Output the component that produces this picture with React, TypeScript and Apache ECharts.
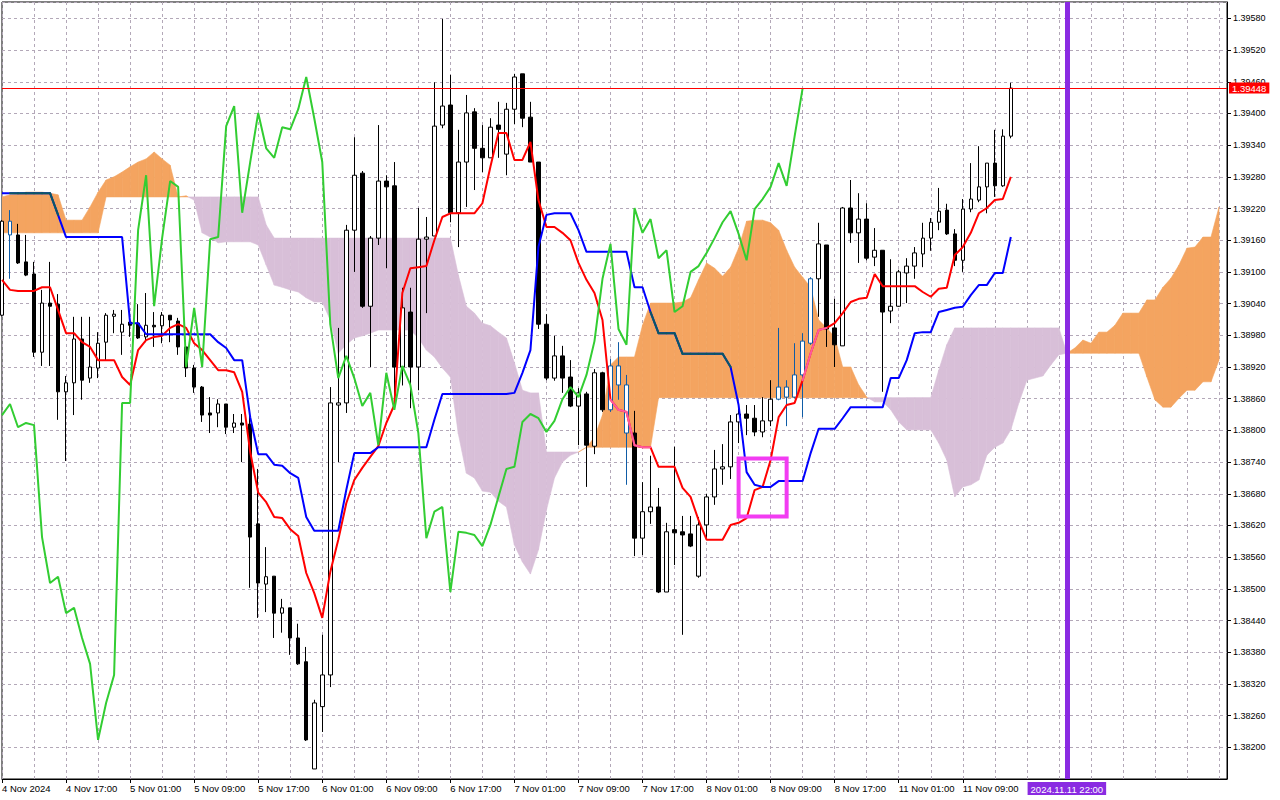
import React, { useEffect, useRef } from "react";
import * as echarts from "echarts";

// ---- tick labels (one every 8 hourly bars) ----
const xTickLabels = [
  "4 Nov 2024", "4 Nov 17:00", "5 Nov 01:00", "5 Nov 09:00", "5 Nov 17:00",
  "6 Nov 01:00", "6 Nov 09:00", "6 Nov 17:00", "7 Nov 01:00", "7 Nov 09:00",
  "7 Nov 17:00", "8 Nov 01:00", "8 Nov 09:00", "8 Nov 17:00", "11 Nov 01:00",
  "11 Nov 09:00",
];

// ---- candles ----
const opens = [
  1.39018, 1.39196, 1.39170, 1.39119, 1.39096, 1.38948, 1.39041, 1.39039, 1.38873, 1.38890,
  1.38973, 1.38899, 1.38918, 1.38967, 1.39016, 1.38986, 1.39005, 1.39003, 1.38977, 1.38999,
  1.38998, 1.39018, 1.39007, 1.38958, 1.38918, 1.38882, 1.38833, 1.38833, 1.38850, 1.38806,
  1.38814, 1.38812, 1.38623, 1.38509, 1.38524, 1.38454, 1.38464, 1.38407, 1.38362, 1.38159,
  1.38277, 1.38337, 1.38848, 1.38852, 1.39179, 1.39287, 1.39035, 1.39164, 1.39272, 1.39263,
  1.38920, 1.39024, 1.38920, 1.39162, 1.39168, 1.39378, 1.39416, 1.39212, 1.39308, 1.39403,
  1.39334, 1.39316, 1.39378, 1.39323, 1.39408, 1.39475, 1.39393, 1.39308, 1.39001, 1.38899,
  1.38941, 1.38901, 1.38846, 1.38869, 1.38770, 1.38909, 1.38839, 1.38922, 1.38886, 1.38795,
  1.38596, 1.38646, 1.38655, 1.38494, 1.38612, 1.38608, 1.38604, 1.38524, 1.38621, 1.38674,
  1.38727, 1.38731, 1.38816, 1.38831, 1.38823, 1.38797, 1.38818, 1.38859, 1.38882, 1.38863,
  1.38905, 1.38965, 1.39087, 1.39151, 1.38994, 1.38960, 1.39221, 1.39174, 1.39200, 1.39128,
  1.39141, 1.39026, 1.39035, 1.39098, 1.39111, 1.39134, 1.39164, 1.39194, 1.39217, 1.39172,
  1.39122, 1.39219, 1.39236, 1.39261, 1.39306, 1.39263, 1.39357,
];
const highs = [
  1.39198, 1.39217, 1.39191, 1.39170, 1.39119, 1.39066, 1.39119, 1.39058, 1.38903, 1.39015,
  1.39015, 1.39015, 1.38986, 1.39022, 1.39028, 1.39028, 1.39022, 1.39039, 1.39060, 1.39024,
  1.39024, 1.39018, 1.39013, 1.38971, 1.38924, 1.38884, 1.38863, 1.38859, 1.38850, 1.38831,
  1.38831, 1.38833, 1.38727, 1.38579, 1.38524, 1.38481, 1.38464, 1.38434, 1.38390, 1.38290,
  1.38413, 1.38882, 1.38994, 1.39189, 1.39355, 1.39291, 1.39168, 1.39378, 1.39283, 1.39308,
  1.39070, 1.39070, 1.39221, 1.39204, 1.39459, 1.39579, 1.39473, 1.39369, 1.39435, 1.39410,
  1.39378, 1.39391, 1.39422, 1.39420, 1.39475, 1.39475, 1.39422, 1.39308, 1.39020, 1.38979,
  1.38960, 1.38933, 1.38880, 1.38873, 1.38916, 1.38911, 1.38935, 1.38967, 1.38905, 1.38837,
  1.38702, 1.38752, 1.38691, 1.38625, 1.38769, 1.38638, 1.38638, 1.38636, 1.38680, 1.38763,
  1.38774, 1.38829, 1.38841, 1.38848, 1.38848, 1.38863, 1.38895, 1.38994, 1.38895, 1.38965,
  1.38984, 1.39090, 1.39193, 1.39151, 1.39049, 1.39223, 1.39274, 1.39249, 1.39230, 1.39183,
  1.39141, 1.39124, 1.39104, 1.39126, 1.39147, 1.39193, 1.39202, 1.39259, 1.39229, 1.39181,
  1.39238, 1.39306, 1.39338, 1.39306, 1.39369, 1.39370, 1.39458,
];
const lows = [
  1.39016, 1.39087, 1.39115, 1.39092, 1.38939, 1.38922, 1.38922, 1.38820, 1.38742, 1.38829,
  1.38858, 1.38890, 1.38899, 1.38933, 1.38984, 1.38943, 1.38977, 1.38973, 1.38967, 1.38958,
  1.38965, 1.38967, 1.38943, 1.38901, 1.38871, 1.38816, 1.38795, 1.38806, 1.38793, 1.38795,
  1.38740, 1.38502, 1.38445, 1.38456, 1.38407, 1.38417, 1.38375, 1.38356, 1.38212, 1.38159,
  1.38229, 1.38314, 1.38740, 1.38833, 1.39100, 1.39032, 1.38920, 1.39151, 1.39107, 1.38867,
  1.38885, 1.38842, 1.38876, 1.39022, 1.39168, 1.39372, 1.39194, 1.39147, 1.39223, 1.39255,
  1.39289, 1.39316, 1.39316, 1.39283, 1.39380, 1.39374, 1.39308, 1.38992, 1.38895, 1.38894,
  1.38871, 1.38844, 1.38772, 1.38693, 1.38755, 1.38835, 1.38835, 1.38858, 1.38697, 1.38562,
  1.38564, 1.38623, 1.38492, 1.38494, 1.38545, 1.38413, 1.38579, 1.38521, 1.38596, 1.38659,
  1.38697, 1.38708, 1.38776, 1.38791, 1.38789, 1.38787, 1.38808, 1.38857, 1.38808, 1.38861,
  1.38825, 1.38962, 1.39015, 1.38958, 1.38920, 1.38960, 1.39155, 1.39117, 1.39122, 1.39111,
  1.38873, 1.39003, 1.39034, 1.39041, 1.39087, 1.39109, 1.39140, 1.39179, 1.39170, 1.39111,
  1.39100, 1.39213, 1.39232, 1.39211, 1.39242, 1.39261, 1.39353,
];
const closes = [
  1.39196, 1.39170, 1.39117, 1.39094, 1.38948, 1.39041, 1.39035, 1.38873, 1.38890, 1.38973,
  1.38895, 1.38920, 1.38965, 1.39018, 1.39020, 1.39001, 1.38999, 1.38975, 1.38999, 1.38996,
  1.39018, 1.39009, 1.38958, 1.38918, 1.38882, 1.38829, 1.38829, 1.38850, 1.38806, 1.38814,
  1.38810, 1.38598, 1.38511, 1.38523, 1.38454, 1.38464, 1.38407, 1.38358, 1.38214, 1.38284,
  1.38337, 1.38852, 1.38852, 1.39179, 1.39283, 1.39035, 1.39164, 1.39272, 1.39261, 1.38920,
  1.39032, 1.38920, 1.39162, 1.39166, 1.39376, 1.39414, 1.39212, 1.39308, 1.39401, 1.39334,
  1.39316, 1.39374, 1.39370, 1.39408, 1.39469, 1.39391, 1.39308, 1.39001, 1.38899, 1.38941,
  1.38899, 1.38846, 1.38871, 1.38772, 1.38909, 1.38839, 1.38922, 1.38886, 1.38795, 1.38596,
  1.38646, 1.38655, 1.38494, 1.38608, 1.38606, 1.38602, 1.38581, 1.38621, 1.38674, 1.38727,
  1.38731, 1.38816, 1.38831, 1.38823, 1.38797, 1.38818, 1.38859, 1.38882, 1.38863, 1.38905,
  1.38969, 1.39087, 1.39153, 1.38992, 1.38962, 1.39221, 1.39174, 1.39200, 1.39126, 1.39141,
  1.39024, 1.39035, 1.39100, 1.39111, 1.39136, 1.39164, 1.39194, 1.39215, 1.39172, 1.39122,
  1.39219, 1.39238, 1.39261, 1.39306, 1.39263, 1.39357, 1.39448,
];

// ---- Ichimoku lines ----
const tenkan = [
  1.39085, 1.39066, 1.39064, 1.39064, 1.39064, 1.39071, 1.39071, 1.39028, 1.38984, 1.38984,
  1.38967, 1.38958, 1.38933, 1.38933, 1.38933, 1.38901, 1.38886, 1.38952, 1.38971, 1.38977,
  1.38979, 1.38994, 1.39001, 1.38994, 1.38965, 1.38952, 1.38933, 1.38914, 1.38914, 1.38910,
  1.38873, 1.38759, 1.38682, 1.38664, 1.38636, 1.38634, 1.38613, 1.38600, 1.38530, 1.38492,
  1.38445, 1.38532, 1.38593, 1.38662, 1.38706, 1.38729, 1.38750, 1.38770, 1.38814, 1.38848,
  1.39060, 1.39107, 1.39109, 1.39111, 1.39160, 1.39204, 1.39211, 1.39211, 1.39211, 1.39211,
  1.39230, 1.39299, 1.39363, 1.39363, 1.39312, 1.39312, 1.39346, 1.39236, 1.39185, 1.39185,
  1.39174, 1.39160, 1.39117, 1.39085, 1.39060, 1.39009, 1.38858, 1.38839, 1.38835, 1.38772,
  1.38768, 1.38768, 1.38731, 1.38731, 1.38731, 1.38691, 1.38674, 1.38630, 1.38593, 1.38593,
  1.38593, 1.38621, 1.38625, 1.38634, 1.38687, 1.38693, 1.38744, 1.38825, 1.38848, 1.38852,
  1.38895, 1.38946, 1.38990, 1.38994, 1.39003, 1.39022, 1.39043, 1.39049, 1.39051, 1.39096,
  1.39073, 1.39073, 1.39073, 1.39073, 1.39073, 1.39062, 1.39053, 1.39068, 1.39070, 1.39132,
  1.39147, 1.39174, 1.39211, 1.39221, 1.39236, 1.39238, 1.39280,
];
const kijun = [
  1.39249, 1.39249, 1.39249, 1.39249, 1.39249, 1.39249, 1.39249, 1.39208, 1.39166, 1.39166,
  1.39166, 1.39166, 1.39166, 1.39166, 1.39166, 1.39166, 1.39003, 1.39003, 1.38982, 1.38982,
  1.38982, 1.38982, 1.38982, 1.38982, 1.38982, 1.38982, 1.38982, 1.38967, 1.38956, 1.38933,
  1.38933, 1.38825, 1.38755, 1.38755, 1.38735, 1.38733, 1.38719, 1.38710, 1.38636, 1.38610,
  1.38610, 1.38610, 1.38610, 1.38687, 1.38757, 1.38757, 1.38757, 1.38768, 1.38768, 1.38768,
  1.38768, 1.38768, 1.38768, 1.38768, 1.38820, 1.38869, 1.38869, 1.38869, 1.38869, 1.38869,
  1.38869, 1.38869, 1.38869, 1.38869, 1.38871, 1.38909, 1.38952, 1.39147, 1.39208, 1.39211,
  1.39211, 1.39211, 1.39179, 1.39138, 1.39138, 1.39138, 1.39138, 1.39138, 1.39138, 1.39071,
  1.39071, 1.39024, 1.38984, 1.38984, 1.38984, 1.38945, 1.38945, 1.38945, 1.38945, 1.38945,
  1.38945, 1.38920, 1.38848, 1.38721, 1.38697, 1.38693, 1.38693, 1.38704, 1.38704, 1.38704,
  1.38704, 1.38757, 1.38803, 1.38803, 1.38803, 1.38823, 1.38844, 1.38844, 1.38844, 1.38844,
  1.38844, 1.38899, 1.38899, 1.38933, 1.38984, 1.38986, 1.38986, 1.39024, 1.39028, 1.39032,
  1.39034, 1.39056, 1.39075, 1.39075, 1.39098, 1.39098, 1.39166,
];
const senkouA = [
  1.39242, 1.39246, 1.39247, 1.39251, 1.39251, 1.39251, 1.39249, 1.39246, 1.39198, 1.39198,
  1.39198, 1.39223, 1.39251, 1.39274, 1.39280, 1.39289, 1.39299, 1.39308, 1.39314, 1.39327,
  1.39314, 1.39302, 1.39242, 1.39244, 1.39236, 1.39174, 1.39166, 1.39155, 1.39157, 1.39157,
  1.39157, 1.39157, 1.39151, 1.39113, 1.39075, 1.39071, 1.39066, 1.39062, 1.39051, 1.39043,
  1.39043, 1.39009, 1.38946, 1.38962, 1.38975, 1.38979, 1.38984, 1.38990, 1.38990, 1.38990,
  1.38990, 1.38990, 1.38975, 1.38952, 1.38939, 1.38918, 1.38901, 1.38793, 1.38719, 1.38710,
  1.38685, 1.38683, 1.38666, 1.38655, 1.38583, 1.38551, 1.38528, 1.38574, 1.38649, 1.38710,
  1.38740, 1.38753, 1.38759, 1.38768, 1.38787, 1.38829, 1.38924, 1.38939, 1.38939, 1.38939,
  1.38999, 1.39041, 1.39041, 1.39041, 1.39041, 1.39043, 1.39051, 1.39085, 1.39117, 1.39107,
  1.39092, 1.39109, 1.39145, 1.39196, 1.39198, 1.39198, 1.39193, 1.39179, 1.39141, 1.39109,
  1.39090, 1.39071, 1.39009, 1.38994, 1.38977, 1.38920, 1.38920, 1.38886, 1.38863, 1.38854,
  1.38854, 1.38839, 1.38816, 1.38801, 1.38801, 1.38801, 1.38801, 1.38776, 1.38744, 1.38674,
  1.38693, 1.38697, 1.38706, 1.38753, 1.38768, 1.38776, 1.38801, 1.38852, 1.38895, 1.38899,
  1.38903, 1.38924, 1.38943, 1.38946, 1.38956, 1.38971, 1.38965, 1.38986, 1.38986, 1.38999,
  1.39022, 1.39022, 1.39022, 1.39047, 1.39047, 1.39071, 1.39088, 1.39113, 1.39145, 1.39147,
  1.39166, 1.39166, 1.39223,
];
const senkouB = [
  1.39174, 1.39174, 1.39174, 1.39174, 1.39174, 1.39174, 1.39174, 1.39174, 1.39174, 1.39174,
  1.39174, 1.39174, 1.39174, 1.39242, 1.39242, 1.39242, 1.39242, 1.39242, 1.39242, 1.39242,
  1.39242, 1.39242, 1.39242, 1.39242, 1.39242, 1.39242, 1.39242, 1.39242, 1.39242, 1.39242,
  1.39242, 1.39242, 1.39242, 1.39189, 1.39164, 1.39164, 1.39164, 1.39164, 1.39164, 1.39164,
  1.39164, 1.39164, 1.39164, 1.39164, 1.39164, 1.39164, 1.39164, 1.39164, 1.39164, 1.39164,
  1.39164, 1.39164, 1.39164, 1.39164, 1.39164, 1.39164, 1.39164, 1.39094, 1.39035, 1.39022,
  1.39003, 1.38998, 1.38986, 1.38975, 1.38928, 1.38876, 1.38871, 1.38871, 1.38759, 1.38759,
  1.38759, 1.38759, 1.38759, 1.38768, 1.38768, 1.38768, 1.38768, 1.38768, 1.38768, 1.38768,
  1.38768, 1.38768, 1.38862, 1.38862, 1.38862, 1.38862, 1.38862, 1.38862, 1.38862, 1.38862,
  1.38862, 1.38862, 1.38862, 1.38862, 1.38862, 1.38862, 1.38862, 1.38862, 1.38862, 1.38862,
  1.38862, 1.38862, 1.38862, 1.38862, 1.38862, 1.38862, 1.38862, 1.38862, 1.38862, 1.38862,
  1.38862, 1.38862, 1.38862, 1.38862, 1.38862, 1.38862, 1.38862, 1.38914, 1.38962, 1.38994,
  1.38994, 1.38994, 1.38994, 1.38994, 1.38994, 1.38994, 1.38994, 1.38994, 1.38994, 1.38994,
  1.38994, 1.38994, 1.38994, 1.38946, 1.38946, 1.38946, 1.38946, 1.38946, 1.38946, 1.38946,
  1.38946, 1.38946, 1.38946, 1.38901, 1.38858, 1.38844, 1.38844, 1.38861, 1.38876, 1.38876,
  1.38892, 1.38892, 1.38933,
];
const chikouShift = 26; // Chikou Span = close plotted 26 bars back

// ---- annotations ----
const cursorBar = 133;
const cursorLabel = "2024.11.11 22:00";
const highlightBox = [92, 1.38747, 98, 1.38637]; // [barFrom, priceTop, barTo, priceBottom]
const BAR_SLOTS = 154;

const ORANGE = "#f4a460";
const THISTLE = "#d8bfd8";
const INV_BLUE = "#0f5ca6";
const FONT = "'Liberation Sans', Arial, sans-serif";

function inOrange(i: number, v: number, tol: number) {
  const a = senkouA[i];
  const b = senkouB[i];
  if (a === undefined || a <= b) return false;
  return v >= b - tol && v <= a + tol;
}

export default function App() {
  const ref = useRef<HTMLDivElement>(null);

  useEffect(() => {
    if (!ref.current) return;
    const chart = echarts.init(ref.current, null, { renderer: "svg" });
    const categories = Array.from({ length: BAR_SLOTS }, (_, i) => String(i));
    const chikou = closes.slice(chikouShift);
    const last = closes[closes.length - 1];

    const candleData = opens.map((o, i) => {
      const c = closes[i];
      const item: any = { value: [o, c, lows[i], highs[i]] };
      if (inOrange(i, (o + c) / 2, 0)) {
        item.itemStyle = { color: "#ffffff", color0: INV_BLUE, borderColor: INV_BLUE, borderColor0: INV_BLUE };
      }
      return item;
    });

    const kumoSegs: number[][] = [];
    for (let i = 0; i < senkouA.length - 1; i++) {
      kumoSegs.push([i, senkouA[i], senkouB[i], senkouA[i + 1], senkouB[i + 1]]);
    }

    const overlaySegs = (arr: number[], tol: number) => {
      const out: number[][] = [];
      for (let i = 0; i < arr.length - 1; i++) {
        if (inOrange(i, arr[i], tol) && inOrange(i + 1, arr[i + 1], tol)) out.push([i, arr[i], arr[i + 1]]);
      }
      return out;
    };
    const tenkanIn = overlaySegs(tenkan, 0.00004);
    const kijunIn = overlaySegs(kijun, 0.00006);

    const segSeries = (name: string, segs: number[][], color: string) => ({
      name,
      type: "custom",
      z: 4,
      silent: true,
      clip: true,
      encode: { x: 0, y: 1 },
      data: segs,
      renderItem: (params: any, api: any) => {
        const s = segs[params.dataIndex];
        const p0 = api.coord([s[0], s[1]]);
        const p1 = api.coord([s[0] + 1, s[2]]);
        return {
          type: "line",
          shape: { x1: p0[0], y1: p0[1], x2: p1[0], y2: p1[1] },
          style: { stroke: color, lineWidth: 2, lineCap: "round" },
        };
      },
    });

    const option: any = {
      animation: false,
      backgroundColor: "#ffffff",
      grid: {
        left: 2, top: 2, right: 53, bottom: 21,
        show: true, borderColor: "#000000", borderWidth: 1, backgroundColor: "#ffffff",
        containLabel: false, outerBoundsMode: "none",
      },
      xAxis: {
        type: "category",
        data: categories,
        boundaryGap: false,
        axisLine: { show: true, lineStyle: { color: "#000000", width: 1 } },
        axisTick: {
          show: true, length: 4,
          interval: (i: number) => i % 8 === 0 && i <= 120,
          lineStyle: { color: "#000000" },
        },
        axisLabel: {
          show: true,
          interval: (i: number) => i % 8 === 0 && i <= 120,
          formatter: (_v: string, i: number) => xTickLabels[i / 8] ?? "",
          align: "left",
          margin: 4,
          color: "#000000",
          fontSize: 9.5,
          fontFamily: FONT,
        },
        splitLine: {
          show: true,
          interval: (i: number) => i % 4 === 0,
          lineStyle: { color: "#b3a8b8", width: 1, type: [3, 3] },
        },
      },
      yAxis: {
        type: "value",
        position: "right",
        min: 1.3814,
        max: 1.39611,
        interval: 0.0006,
        axisLine: { show: true, lineStyle: { color: "#000000", width: 1 } },
        axisTick: { show: true, length: 4, lineStyle: { color: "#000000" } },
        axisLabel: {
          show: true,
          showMinLabel: false,
          showMaxLabel: false,
          margin: 6,
          color: "#000000",
          fontSize: 9,
          fontFamily: FONT,
          formatter: (v: number) => v.toFixed(5),
        },
        splitLine: { show: true, lineStyle: { color: "#b3a8b8", width: 1, type: [3, 3] } },
      },
      series: [
        {
          name: "Kumo",
          type: "custom",
          z: 1,
          silent: true,
          clip: true,
          encode: { x: 0, y: [1, 2] },
          data: kumoSegs,
          renderItem: (params: any, api: any) => {
            const s = kumoSegs[params.dataIndex];
            const i = s[0];
            const a0 = s[1], b0 = s[2], a1 = s[3], b1 = s[4];
            const pa0 = api.coord([i, a0]);
            const pb0 = api.coord([i, b0]);
            const pa1 = api.coord([i + 1, a1]);
            const pb1 = api.coord([i + 1, b1]);
            const d0 = a0 - b0;
            const d1 = a1 - b1;
            const col = (d: number) => (d >= 0 ? ORANGE : THISTLE);
            const st = (c: string) => ({ fill: c, stroke: c, lineWidth: 0.6 });
            if (d0 * d1 >= 0) {
              const c = d0 + d1 >= 0 ? ORANGE : THISTLE;
              return { type: "polygon", shape: { points: [pa0, pa1, pb1, pb0] }, style: st(c) };
            }
            const t = d0 / (d0 - d1);
            const pm = [pa0[0] + (pa1[0] - pa0[0]) * t, pa0[1] + (pa1[1] - pa0[1]) * t];
            return {
              type: "group",
              children: [
                { type: "polygon", shape: { points: [pa0, pm, pb0] }, style: st(col(d0)) },
                { type: "polygon", shape: { points: [pm, pa1, pb1] }, style: st(col(d1)) },
              ],
            };
          },
        },
        {
          name: "Price",
          type: "candlestick",
          z: 2,
          barWidth: 4,
          data: candleData,
          itemStyle: {
            color: "#ffffff", color0: "#000000",
            borderColor: "#000000", borderColor0: "#000000", borderColorDoji: "#000000",
            borderWidth: 1,
          },
        },
        {
          name: "Tenkan-sen",
          type: "line",
          z: 3,
          data: tenkan,
          symbol: "none",
          showSymbol: false,
          lineStyle: { color: "#ff0000", width: 2 },
          itemStyle: { color: "#ff0000" },
        },
        {
          name: "Kijun-sen",
          type: "line",
          z: 3,
          data: kijun,
          symbol: "none",
          showSymbol: false,
          lineStyle: { color: "#0000ff", width: 2 },
          itemStyle: { color: "#0000ff" },
        },
        {
          name: "Chikou Span",
          type: "line",
          z: 3,
          data: chikou,
          symbol: "none",
          showSymbol: false,
          lineStyle: { color: "#32cd32", width: 2 },
          itemStyle: { color: "#32cd32" },
          markLine: {
            silent: true,
            precision: 5,
            symbol: ["none", "none"],
            animation: false,
            data: [
              {
                yAxis: last,
                lineStyle: { color: "#ff0000", width: 1, type: "solid" },
                label: {
                  show: true, position: "end", formatter: last.toFixed(5),
                  color: "#ffffff", backgroundColor: "#ff0000", padding: [1, 3, 0, 3],
                  fontSize: 9.5, fontFamily: FONT, distance: 2,
                },
              },
              {
                xAxis: String(cursorBar),
                lineStyle: { color: "#8a2be2", width: 5, type: "solid" },
                label: {
                  show: true, position: "start", formatter: cursorLabel,
                  color: "#ffffff", backgroundColor: "#8a2be2", padding: [2, 3, 1, 3],
                  fontSize: 9.5, fontFamily: FONT, distance: 3,
                },
              },
            ],
          },
        },
        segSeries("Tenkan in cloud", tenkanIn, "#ff5b9f"),
        segSeries("Kijun in cloud", kijunIn, "#0a5862"),
        {
          name: "Highlight",
          type: "custom",
          z: 6,
          silent: true,
          clip: false,
          encode: { x: 0, y: 1 },
          data: [[highlightBox[0], highlightBox[1]]],
          renderItem: (_params: any, api: any) => {
            const p0 = api.coord([highlightBox[0], highlightBox[1]]);
            const p1 = api.coord([highlightBox[2], highlightBox[3]]);
            return {
              type: "rect",
              shape: { x: p0[0], y: p0[1], width: p1[0] - p0[0], height: p1[1] - p0[1] },
              style: { fill: "none", stroke: "#f23cf2", lineWidth: 4 },
            };
          },
        },
      ],
    };

    chart.setOption(option);
    return () => chart.dispose();
  }, []);

  return (
    <div
      ref={ref}
      style={{ position: "fixed", left: 0, top: 0, width: 1280, height: 800, background: "#ffffff" }}
    />
  );
}
